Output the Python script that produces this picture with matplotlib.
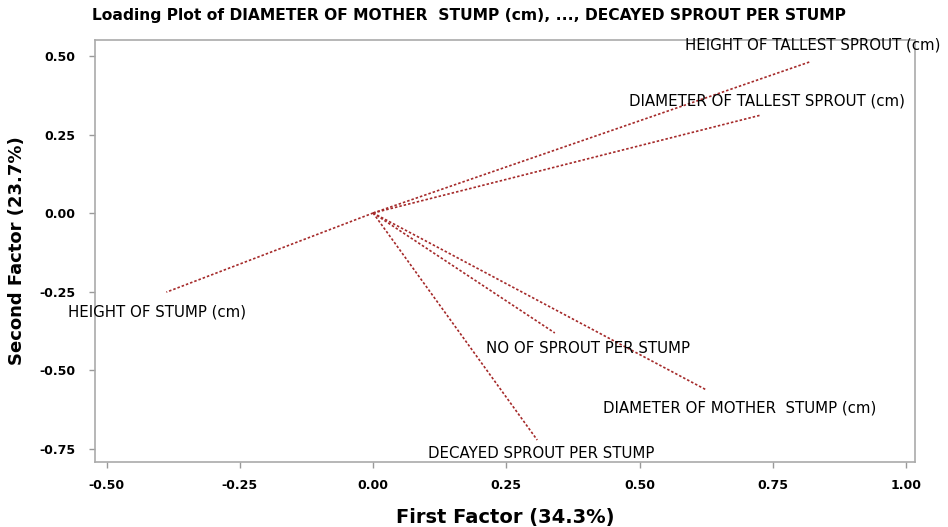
import numpy as np
import matplotlib.pyplot as plt

plt.rcParams['font.family'] = ['DejaVu Sans']
plt.rcParams['axes.unicode_minus'] = False

# loadings on the first two factors
variables = [
    'HEIGHT OF TALLEST SPROUT (cm)',
    'DIAMETER OF TALLEST SPROUT (cm)',
    'HEIGHT OF STUMP (cm)',
    'NO OF SPROUT PER STUMP',
    'DIAMETER OF MOTHER  STUMP (cm)',
    'DECAYED SPROUT PER STUMP',
]
factor1 = [0.819, 0.728, -0.388, 0.341, 0.625, 0.308]
factor2 = [0.481, 0.312, -0.252, -0.382, -0.563, -0.723]

# where each label sits relative to its arrow tip (points)
label_offsets = [(2, 12), (4, 10), (-7, -14), (24, -11), (24, -13), (3, -10)]

x_ticks = [-0.50, -0.25, 0.00, 0.25, 0.50, 0.75, 1.00]
y_ticks = [0.50, 0.25, 0.00, -0.25, -0.50, -0.75]

fig = plt.figure(figsize=(9.48, 5.27), dpi=100)
ax = fig.add_axes([0.1002, 0.1233, 0.865, 0.8008])

line_color = '#a52a2a'
for name, x, y, off in zip(variables, factor1, factor2, label_offsets):
    ax.plot([0, x], [0, y], color=line_color, linestyle=(0, (1.5, 1.2)), linewidth=1.2)
    ax.annotate(name, (x, y), xytext=off, textcoords='offset points',
                ha='center', va='center', fontsize=10.8, color='black')

ax.set_xlim(-0.522, 1.017)
ax.set_ylim(-0.793, 0.551)
ax.set_xticks(x_ticks)
ax.set_xticklabels([f'{t:.2f}' for t in x_ticks])
ax.set_yticks(y_ticks)
ax.set_yticklabels([f'{t:.2f}' for t in y_ticks])
ax.tick_params(labelsize=9, color='#999999', length=4, width=1)
ax.tick_params(axis='x', pad=8)
ax.tick_params(axis='y', pad=10)
for lab in ax.get_xticklabels() + ax.get_yticklabels():
    lab.set_fontweight('bold')

for sp in ax.spines.values():
    sp.set_color('#aaaaaa')
    sp.set_linewidth(1.2)

ax.set_xlabel('First Factor (34.3%)', fontsize=14, fontweight='bold', labelpad=12)
ax.set_ylabel('Second Factor (23.7%)', fontsize=13, fontweight='bold', labelpad=10)
fig.suptitle('Loading Plot of DIAMETER OF MOTHER  STUMP (cm), ..., DECAYED SPROUT PER STUMP',
             x=0.495, y=0.985, fontsize=11.2, fontweight='bold')

fig.savefig('out.png', dpi=100)
